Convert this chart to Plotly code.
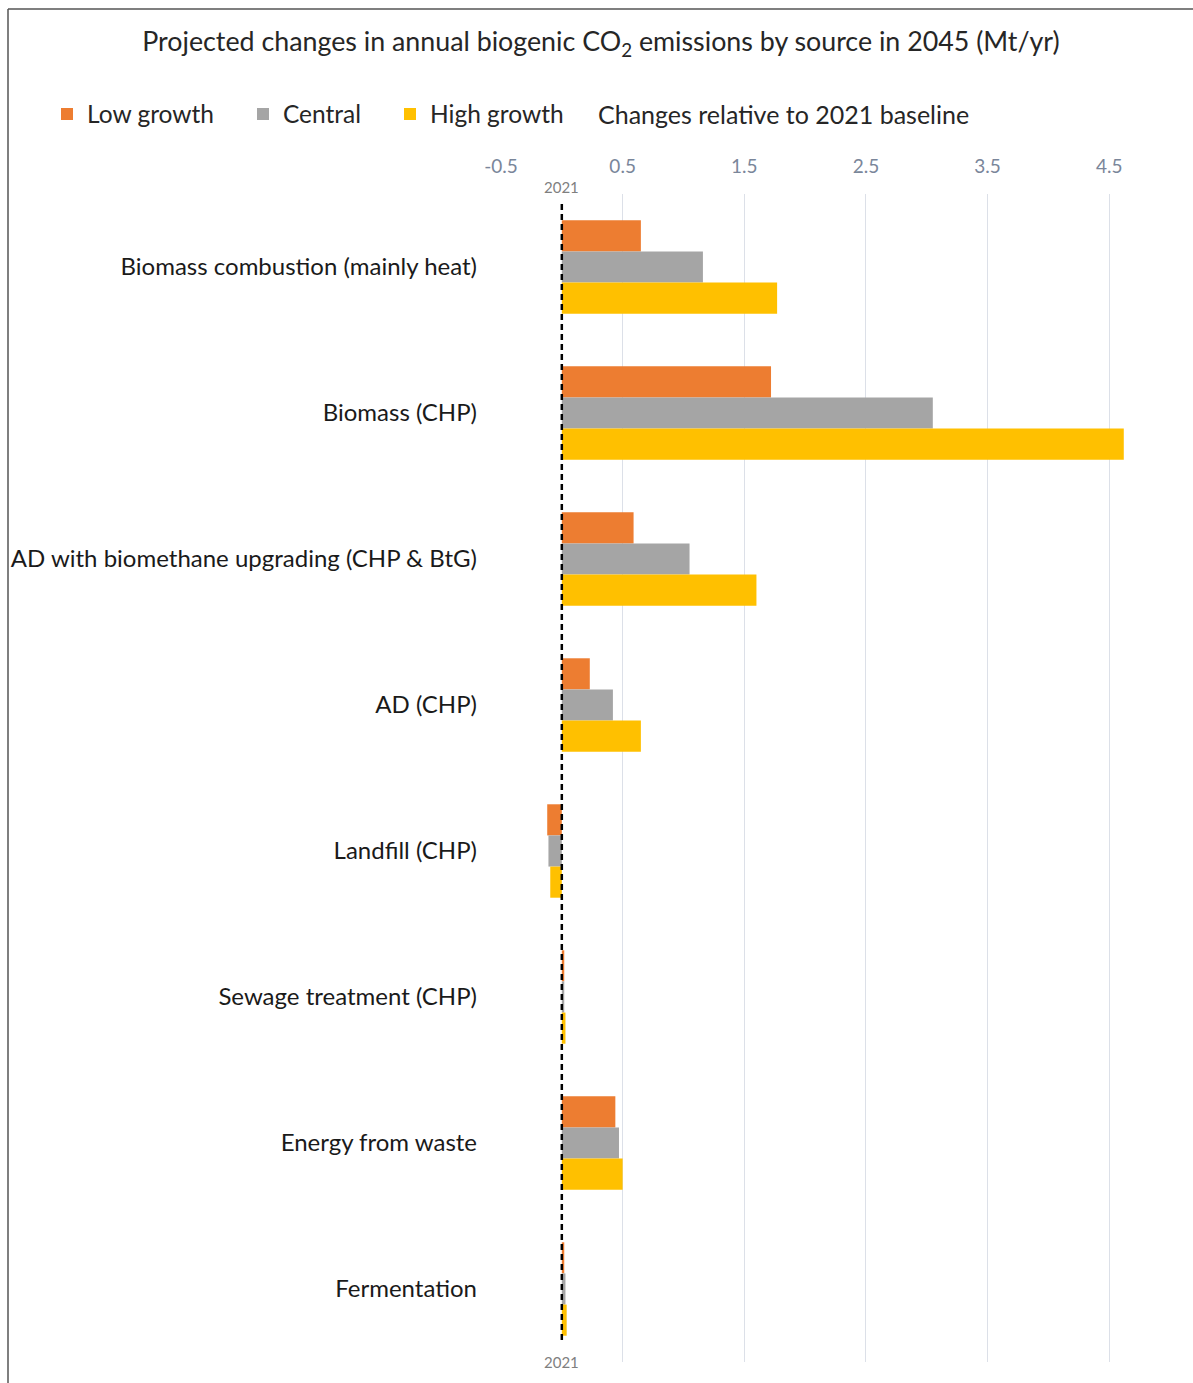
import plotly.graph_objects as go

categories = [
    "Biomass combustion (mainly heat)",
    "Biomass (CHP)",
    "AD with biomethane upgrading (CHP & BtG)",
    "AD (CHP)",
    "Landfill (CHP)",
    "Sewage treatment (CHP)",
    "Energy from waste",
    "Fermentation",
]
low_growth = [0.65, 1.72, 0.59, 0.23, -0.12, 0.02, 0.44, 0.02]
central = [1.16, 3.05, 1.05, 0.42, -0.11, 0.02, 0.47, 0.03]
high_growth = [1.77, 4.62, 1.60, 0.65, -0.095, 0.03, 0.50, 0.04]
series_names = ["Low growth", "Central", "High growth"]
series_colors = ["#ED7D31", "#A5A5A5", "#FFC000"]
tick_vals = [-0.5, 0.5, 1.5, 2.5, 3.5, 4.5]
tick_text = ["-0.5", "0.5", "1.5", "2.5", "3.5", "4.5"]
baseline_label = "2021"

W, H = 1193, 1383
L, R, T, B = 501, 23, 194, 21
pw, ph = W - L - R, H - T - B

def px_x(px):
    return (px - L) / pw

def px_y(py):
    return (H - B - py) / ph

FONT = "Lato"
fig = go.Figure()
legends = ["legend", "legend2", "legend3"]
for name, vals, col, lg in zip(series_names, [low_growth, central, high_growth], series_colors, legends):
    fig.add_trace(go.Bar(
        y=categories, x=vals, name=name, orientation="h",
        marker=dict(color=col, line=dict(width=0)), legend=lg, showlegend=True,
    ))

legend_px = [62, 258, 405]
common_leg = dict(orientation="h", yanchor="middle", xanchor="left",
                  xref="container", yref="container",
                  font=dict(family=FONT, size=24.5, color="#262626"),
                  bgcolor="rgba(0,0,0,0)", itemwidth=30)
fig.update_layout(
    showlegend=True,
    legend=dict(x=(legend_px[0] - 15) / W, y=1 - 114 / H, **common_leg),
    legend2=dict(x=(legend_px[1] - 15) / W, y=1 - 114 / H, **common_leg),
    legend3=dict(x=(legend_px[2] - 15) / W, y=1 - 114 / H, **common_leg),
)

fig.update_layout(
    width=W, height=H,
    margin=dict(l=L, r=R, t=T, b=B, autoexpand=False),
    paper_bgcolor="white", plot_bgcolor="white",
    barmode="group", bargap=0.36, bargroupgap=0,
    title=dict(text="Projected changes in annual biogenic CO<sub>2</sub> emissions by source in 2045 (Mt/yr)",
               x=601 / W, xref="container", xanchor="center",
               y=1 - 42 / H, yref="container", yanchor="middle",
               font=dict(family=FONT, size=26.8, color="#262626")),
    font=dict(family=FONT),
    xaxis=dict(range=[-0.5, 5.0], side="top", tickvals=tick_vals, ticktext=tick_text,
               showgrid=True, gridcolor="#DCE0E8", gridwidth=1, zeroline=False,
               showline=False, ticks="", ticklabelstandoff=16, automargin=False,
               tickfont=dict(family=FONT, size=19, color="#7A869A")),
    yaxis=dict(autorange="reversed", showgrid=False, zeroline=False, showline=False,
               ticks="", ticklabelstandoff=23, automargin=False,
               tickfont=dict(family=FONT, size=24, color="#1A1A1A")),
)

fig.add_annotation(text="Changes relative to 2021 baseline", xref="paper", yref="paper",
                   x=px_x(596), y=px_y(114), xanchor="left", yanchor="middle", showarrow=False,
                   font=dict(family=FONT, size=25, color="#262626"))

fig.add_shape(type="line", xref="x", yref="paper", x0=0, x1=0, y0=px_y(1340), y1=px_y(200),
              line=dict(color="black", width=2.5, dash="6px,4px"))
fig.add_annotation(text=baseline_label, xref="x", yref="paper", x=0, y=px_y(187),
                   showarrow=False, yanchor="middle", font=dict(family=FONT, size=15, color="#7F7F7F"))
fig.add_annotation(text=baseline_label, xref="x", yref="paper", x=0, y=px_y(1362),
                   showarrow=False, yanchor="middle", font=dict(family=FONT, size=15, color="#7F7F7F"))

# frame
fig.add_shape(type="line", xref="paper", yref="paper", x0=px_x(8), x1=px_x(8), y0=px_y(1390), y1=px_y(9),
              line=dict(color="#555555", width=1.5))
fig.add_shape(type="line", xref="paper", yref="paper", x0=px_x(8), x1=px_x(1200), y0=px_y(9), y1=px_y(9),
              line=dict(color="#555555", width=1.5))

fig.write_html("out.html")
